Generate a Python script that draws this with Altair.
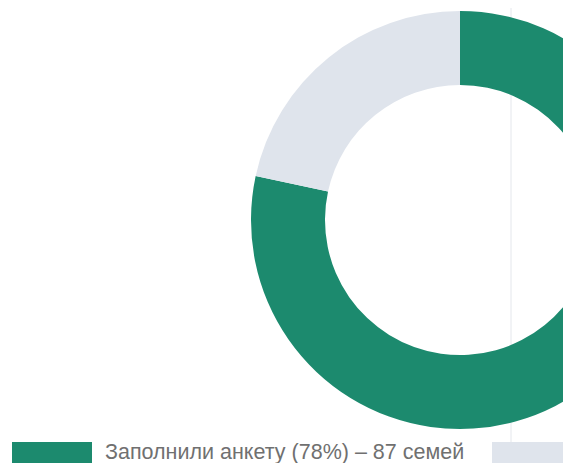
import altair as alt
import pandas as pd

labels = ["Заполнили анкету (78%) – 87 семей", "Не заполнили анкету (22%) – 24 семьи"]
values = [87, 24]
order = [0, 1]
colors = ["#1c8a6e", "#dfe4ec"]

df = pd.DataFrame({"label": labels, "value": values, "order": order})

arc = alt.Chart(df).mark_arc(innerRadius=135, outerRadius=209).encode(
    theta=alt.Theta("value:Q", stack=True),
    order=alt.Order("order:Q"),
    color=alt.Color(
        "label:N",
        scale=alt.Scale(domain=labels, range=colors),
        sort=labels,
        legend=alt.Legend(
            title=None,
            orient="none",
            legendX=4,
            legendY=405,
            direction="horizontal",
            symbolType="M-1,-0.275H1V0.275H-1Z",
            symbolSize=6400,
            symbolStrokeWidth=0,
            labelOffset=13,
            labelFontSize=21.5,
            labelFont="Liberation Sans",
            labelColor="#707070",
            labelLimit=700,
            columnPadding=27,
            padding=0,
        ),
    ),
    x=alt.value(452),
    y=alt.value(212),
)

rule = alt.Chart(pd.DataFrame({"v": [0]})).mark_rule(color="#e4e7ec", strokeWidth=1).encode(
    x=alt.value(503), y=alt.value(0), y2=alt.value(438)
)

chart = alt.layer(rule, arc).properties(
    width=555, height=455, padding=0, autosize="none"
).configure_view(stroke=None)

chart.save("out.html", embed_options={"renderer": "svg", "actions": False})
